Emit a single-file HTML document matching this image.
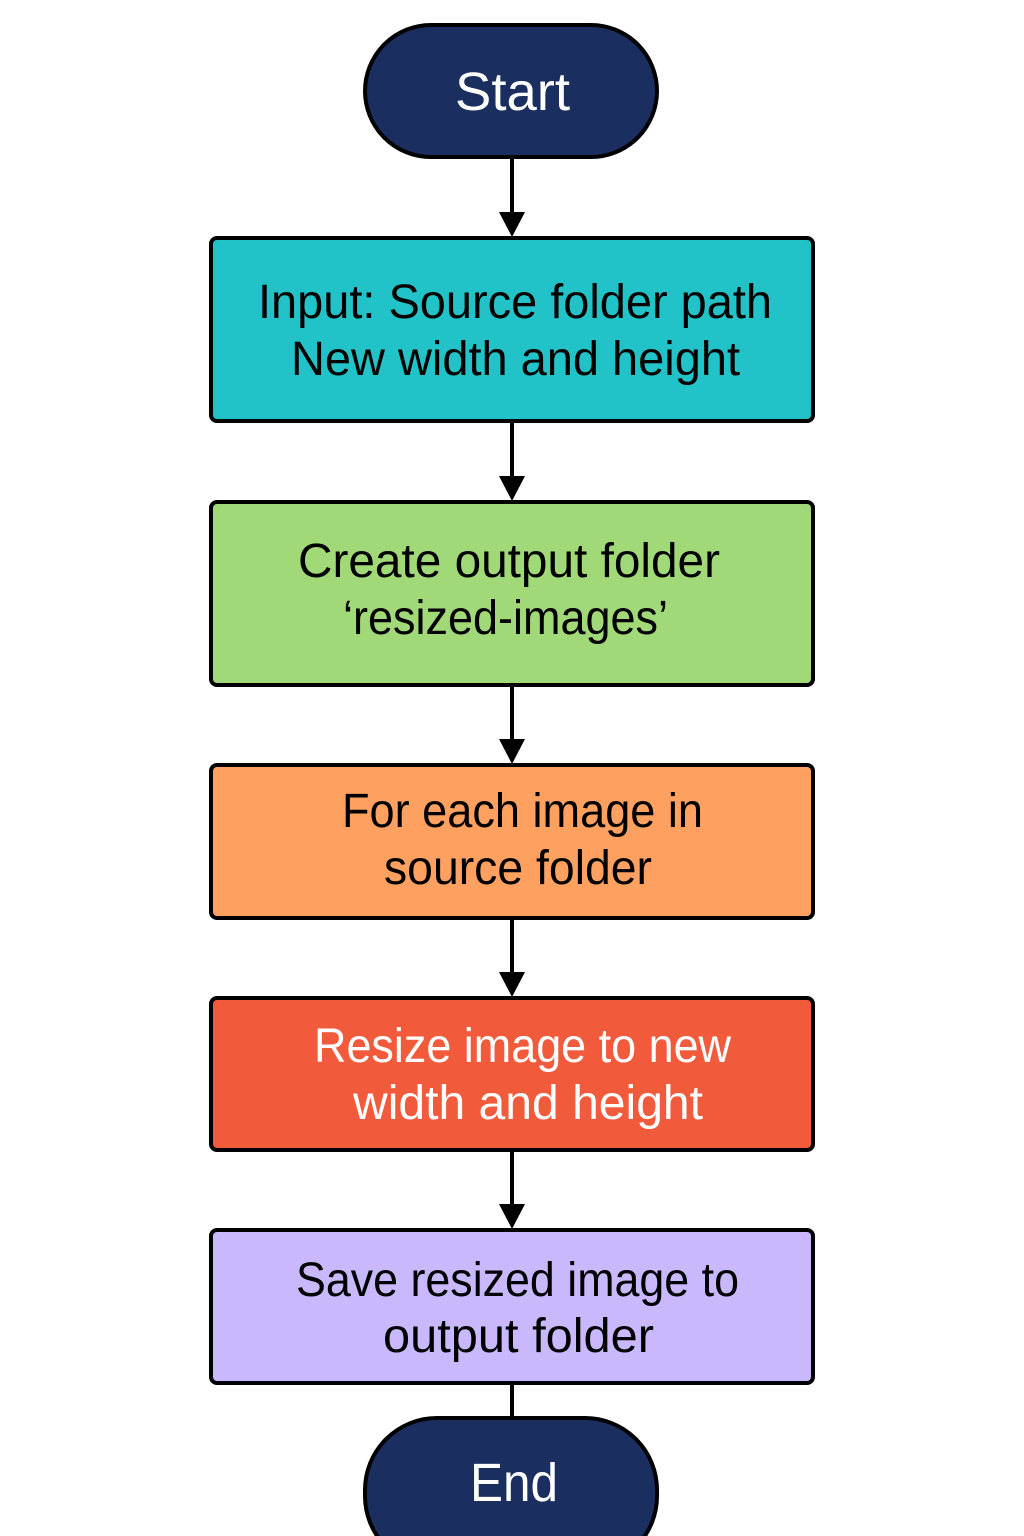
<!DOCTYPE html>
<html><head><meta charset="utf-8"><style>
html,body{margin:0;padding:0;background:#fff;}
svg{display:block;}
text{font-family:"Liberation Sans",sans-serif;font-size:48px;}
</style></head><body>
<svg width="1024" height="1536" viewBox="0 0 1024 1536" xmlns="http://www.w3.org/2000/svg">
<g stroke="#000" stroke-width="4">
<line x1="512" y1="158" x2="512" y2="215"/>
<line x1="512" y1="422" x2="512" y2="479"/>
<line x1="512" y1="686" x2="512" y2="742"/>
<line x1="512" y1="919" x2="512" y2="975"/>
<line x1="512" y1="1151" x2="512" y2="1207"/>
<line x1="512" y1="1384" x2="512" y2="1420"/>
</g>
<g fill="#000">
<polygon points="499,212 525,212 512,237"/>
<polygon points="499,476 525,476 512,501"/>
<polygon points="499,739 525,739 512,764"/>
<polygon points="499,972 525,972 512,997"/>
<polygon points="499,1204 525,1204 512,1229"/>
</g>
<g stroke="#000" stroke-width="4">
<rect x="365" y="25" width="292" height="132" rx="66" fill="#1a2f5f"/>
<rect x="211" y="238" width="602" height="183" rx="6" fill="#22c3c8"/>
<rect x="211" y="502" width="602" height="183" rx="6" fill="#a1d878"/>
<rect x="211" y="765" width="602" height="153" rx="6" fill="#fda060"/>
<rect x="211" y="998" width="602" height="152" rx="6" fill="#f25a3c"/>
<rect x="211" y="1230" width="602" height="153" rx="6" fill="#c9b8fb"/>
<rect x="365" y="1418" width="292" height="150" rx="72" fill="#1a2f5f"/>
</g>
<g fill="#000">
<text x="258" y="318" textLength="514" lengthAdjust="spacingAndGlyphs">Input: Source folder path</text>
<text x="291" y="375" textLength="449" lengthAdjust="spacingAndGlyphs">New width and height</text>
<text x="298" y="577" textLength="422" lengthAdjust="spacingAndGlyphs">Create output folder</text>
<text x="343" y="634" textLength="325" lengthAdjust="spacingAndGlyphs">‘resized-images’</text>
<text x="342" y="827" textLength="361" lengthAdjust="spacingAndGlyphs">For each image in</text>
<text x="384" y="884" textLength="268" lengthAdjust="spacingAndGlyphs">source folder</text>
<text x="296" y="1296" textLength="443" lengthAdjust="spacingAndGlyphs">Save resized image to</text>
<text x="383" y="1352" textLength="271" lengthAdjust="spacingAndGlyphs">output folder</text>
</g>
<g fill="#fff">
<text x="314" y="1062" textLength="417" lengthAdjust="spacingAndGlyphs">Resize image to new</text>
<text x="353" y="1119" textLength="350" lengthAdjust="spacingAndGlyphs">width and height</text>
<text x="455" y="110" textLength="115" lengthAdjust="spacingAndGlyphs" style="font-size:54px">Start</text>
<text x="470" y="1501" textLength="88" lengthAdjust="spacingAndGlyphs" style="font-size:54px">End</text>
</g>
</svg>
</body></html>
